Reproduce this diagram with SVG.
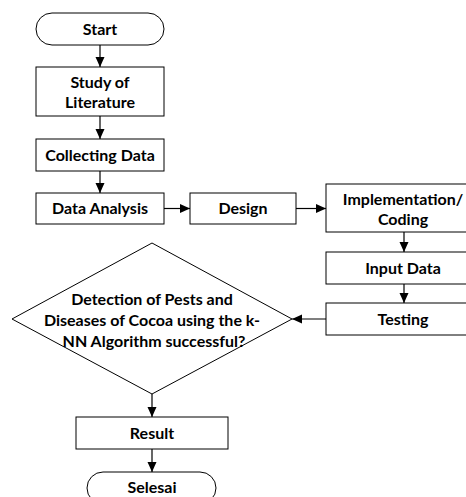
<svg xmlns="http://www.w3.org/2000/svg" width="466" height="497" viewBox="0 0 466 497">
<style>
.box{fill:#fff;stroke:#000;stroke-width:1}
.t{font-family:Lato,"Liberation Sans",sans-serif;font-weight:bold;font-size:16px;fill:#000;text-anchor:middle}
.c{stroke:#000;stroke-width:1.2;fill:none;marker-end:url(#ah)}
</style>
<defs>
<marker id="ah" markerUnits="userSpaceOnUse" markerWidth="11" markerHeight="10" refX="10" refY="4.5" orient="auto">
<path d="M0,0 L10,4.5 L0,9 z" fill="#000"/>
</marker>
</defs>
<rect width="466" height="497" fill="#fff"/>
<g id="connectors">
<line class="c" x1="100" y1="45" x2="100" y2="67"/>
<line class="c" x1="100" y1="116" x2="100" y2="139"/>
<line class="c" x1="100" y1="171" x2="100" y2="193"/>
<line class="c" x1="164" y1="208.5" x2="190" y2="208.5"/>
<line class="c" x1="296" y1="208.5" x2="326" y2="208.5"/>
<line class="c" x1="404" y1="232" x2="404" y2="252"/>
<line class="c" x1="404" y1="284" x2="404" y2="303"/>
<line class="c" x1="326" y1="319" x2="292" y2="319"/>
<line class="c" x1="152" y1="394" x2="152" y2="417"/>
<line class="c" x1="152" y1="449" x2="152" y2="472"/>
</g>
<g id="start">
<rect class="box" x="36" y="13" width="128" height="32" rx="16"/>
<text class="t" x="100" y="34.5">Start</text>
</g>
<g id="study">
<rect class="box" x="36" y="67" width="128" height="49"/>
<text class="t" x="100" y="88">Study of</text>
<text class="t" x="100" y="108">Literature</text>
</g>
<g id="collecting">
<rect class="box" x="36" y="139" width="128" height="32"/>
<text class="t" x="100" y="160.5">Collecting Data</text>
</g>
<g id="analysis">
<rect class="box" x="36" y="193" width="128" height="31"/>
<text class="t" x="100" y="214">Data Analysis</text>
</g>
<g id="design">
<rect class="box" x="190" y="193" width="106" height="31"/>
<text class="t" x="243" y="214">Design</text>
</g>
<g id="implementation">
<rect class="box" x="326" y="184" width="156" height="48"/>
<text class="t" x="403" y="204.5">Implementation/</text>
<text class="t" x="403" y="225">Coding</text>
</g>
<g id="input">
<rect class="box" x="326" y="252" width="156" height="32"/>
<text class="t" x="403" y="273.5">Input Data</text>
</g>
<g id="testing">
<rect class="box" x="326" y="303" width="156" height="32"/>
<text class="t" x="403" y="324.5">Testing</text>
</g>
<g id="decision">
<polygon class="box" points="152,243 292,319 152,394 12,319"/>
<text class="t" x="152" y="304.5">Detection of Pests and</text>
<text class="t" x="152" y="325.5">Diseases of Cocoa using the k-</text>
<text class="t" x="154" y="346.5">NN Algorithm successful?</text>
</g>
<g id="result">
<rect class="box" x="76" y="417" width="152" height="32"/>
<text class="t" x="152" y="438.5">Result</text>
</g>
<g id="selesai">
<rect class="box" x="87" y="472" width="129" height="32" rx="16"/>
<text class="t" x="152" y="493">Selesai</text>
</g>
</svg>
